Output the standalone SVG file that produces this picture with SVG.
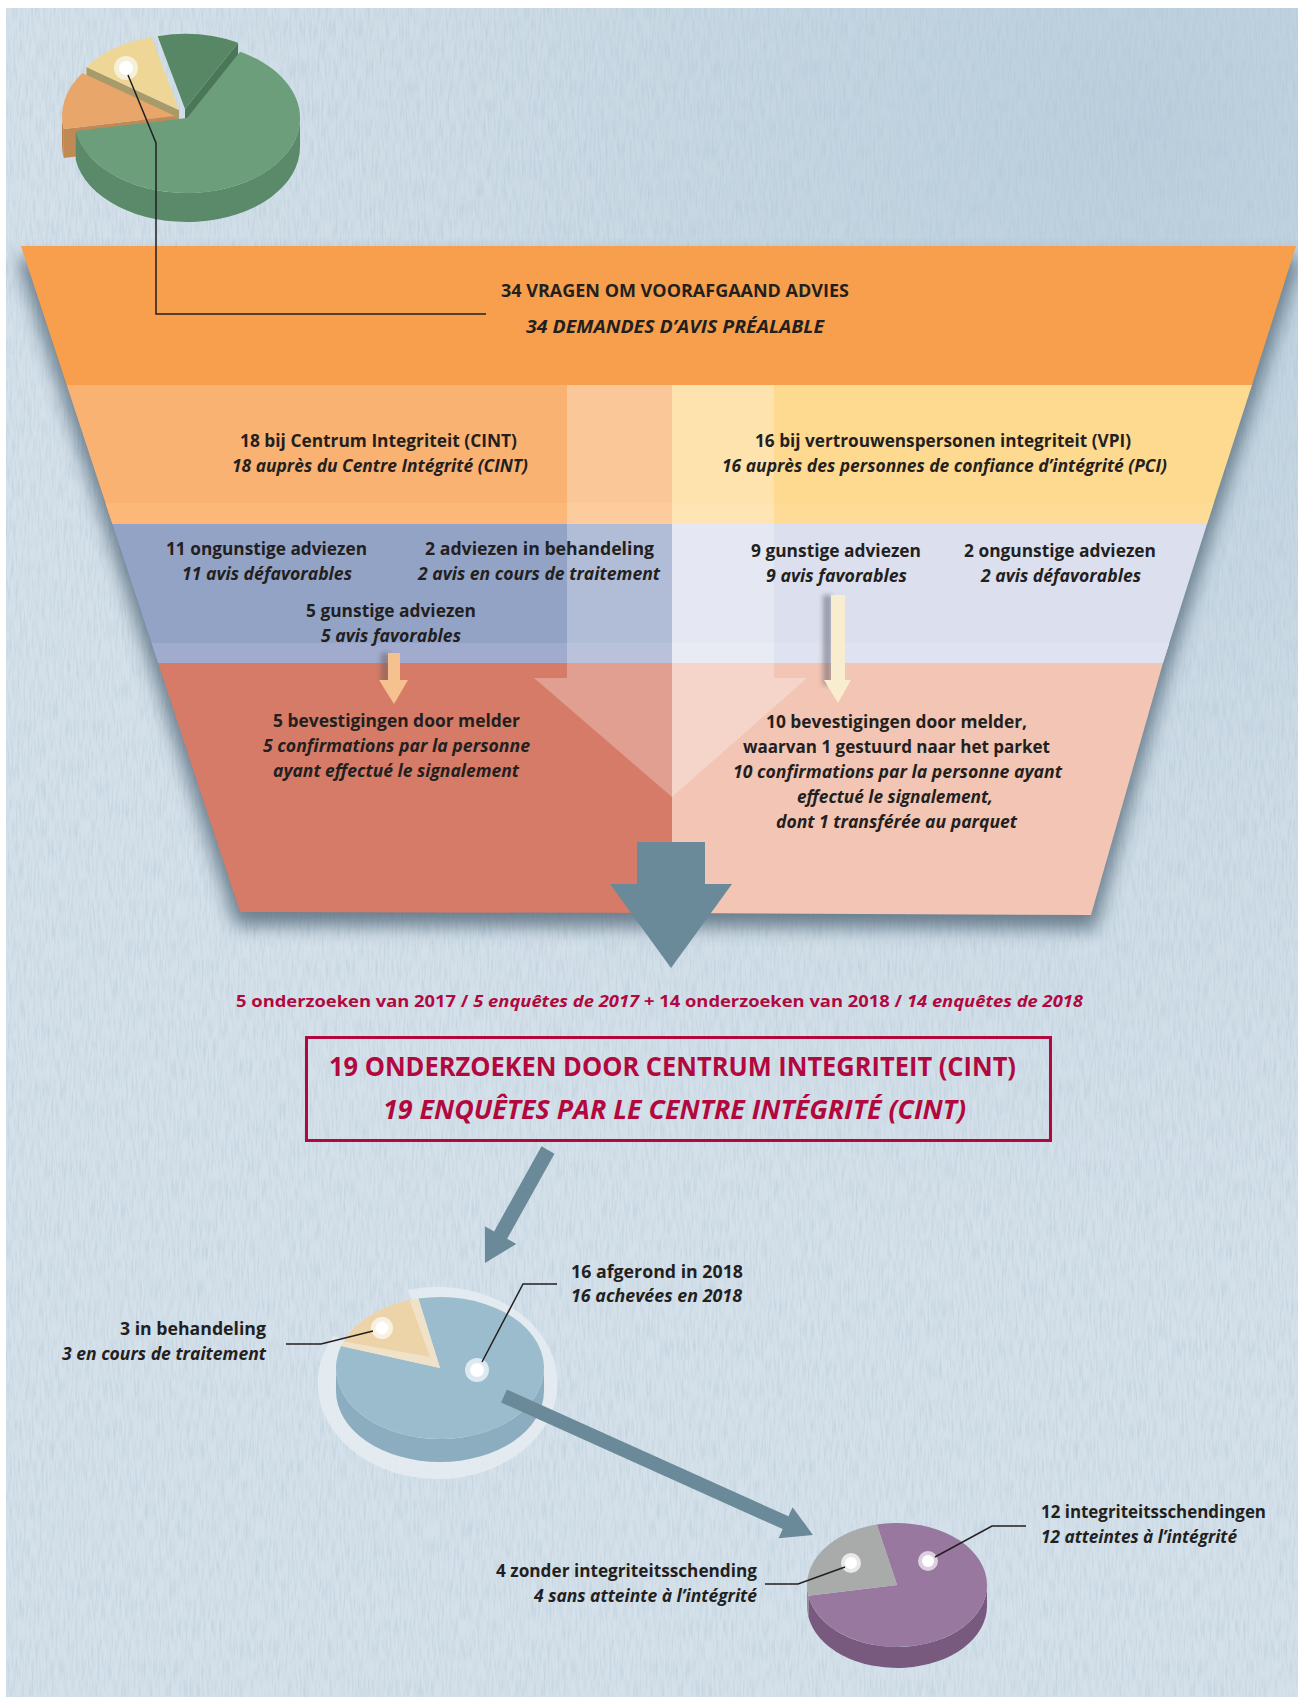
<svg xmlns="http://www.w3.org/2000/svg" width="1298" height="1697" viewBox="0 0 1298 1697">
<defs>
<style>
.t{font-family:"Open Sans","Liberation Sans",Arial,sans-serif;font-weight:700;font-size:17px;fill:#231f20}
.i{font-style:italic}
.h{font-size:18px}
.r{fill:#b2083e}
.rb{font-size:26px;font-weight:700}
.rs{font-size:16px}
.ld{fill:none;stroke:#231f20;stroke-width:1.5}
.arr{fill:#6a8a99}
</style>
<radialGradient id="bg" cx="1150" cy="120" r="1150" gradientUnits="userSpaceOnUse">
<stop offset="0" stop-color="#bbcfdd"/>
<stop offset="0.6" stop-color="#cedce6"/>
<stop offset="1" stop-color="#d5e1ea"/>
</radialGradient>
<filter id="tex" x="0" y="0" width="1" height="1">
<feTurbulence type="fractalNoise" baseFrequency="0.5 0.05" numOctaves="2" seed="7" result="n"/>
<feColorMatrix in="n" type="matrix" values="0 0 0 0 0.40  0 0 0 0 0.53  0 0 0 0 0.64  0.9 0 0 0 -0.36"/>
</filter>
<filter id="blur" x="-20%" y="-20%" width="140%" height="140%">
<feGaussianBlur stdDeviation="9"/>
</filter>
<filter id="blur2" x="-50%" y="-20%" width="200%" height="140%">
<feGaussianBlur stdDeviation="2.5"/>
</filter>
<clipPath id="fc">
<path d="M21,246 L1296,246 L1252,385 L1207,524 L1163,663 L1091,915 L672,913 L240,912 Z"/>
</clipPath>
</defs>

<!-- background -->
<rect x="0" y="0" width="1298" height="1697" fill="#ffffff"/>
<rect x="6" y="8" width="1292" height="1689" fill="url(#bg)"/>
<rect x="6" y="8" width="1292" height="1689" filter="url(#tex)"/>

<!-- top pie -->
<g id="pie-top">
<path d="M185,109 L238.05,42.78 L238.05,71.78 L185,138 Z" fill="#4b7759"/>
<path d="M185,109 L157.66,36.23 A113,75 0 0 1 238.05,42.78 Z" fill="#588766"/>
<path d="M179,110 L86.43,66.98 L86.43,95.98 L179,139 Z" fill="#a99b69"/>
<path d="M179,110 L86.43,66.98 A113,75 0 0 1 151.66,37.23 Z" fill="#eed796"/>
<path d="M175,116 L63.72,129.02 L63.72,158.02 L175,145 Z" fill="#c18a55"/>
<path d="M62,116 A113,75 0 0 0 63.72,129.02 L63.72,158.02 A113,75 0 0 1 62,145 Z" fill="#b98250"/>
<path d="M175,116 L82.43,72.98 A113,75 0 0 0 63.72,129.02 Z" fill="#e8a66b"/>
<path d="M300,118 A113,75 0 0 1 75.72,131.02 L75.72,160.02 A113,75 0 0 0 300,147 Z" fill="#5a8a69"/>
<path d="M187,118 L240.05,51.78 A113,75 0 1 1 75.72,131.02 Z" fill="#6c9e7b"/>
<circle cx="126" cy="68" r="12" fill="#f7f0d8"/>
<circle cx="126" cy="68" r="7" fill="#ffffff"/>
</g>

<!-- funnel -->
<g id="funnel">
<path d="M17,258 L1300,258 L1256,397 L1211,536 L1167,675 L1095,929 L672,927 L236,926 Z" fill="#3f5669" opacity="0.7" filter="url(#blur)"/>
<g clip-path="url(#fc)">
<rect x="0" y="246" width="1298" height="139" fill="#f79f4c"/>
<rect x="0" y="385" width="672" height="139" fill="#f9b272"/>
<rect x="672" y="385" width="626" height="139" fill="#fed990"/>
<rect x="0" y="503" width="672" height="21" fill="#fbb879"/>
<rect x="672" y="503" width="626" height="21" fill="#fedb96"/>
<rect x="0" y="524" width="672" height="139" fill="#93a3c6"/>
<rect x="672" y="524" width="626" height="139" fill="#dcdfee"/>
<rect x="0" y="643" width="672" height="20" fill="#a0abcd"/>
<rect x="672" y="643" width="626" height="20" fill="#dfe2f0"/>
<rect x="0" y="663" width="672" height="260" fill="#d57b67"/>
<rect x="672" y="663" width="626" height="260" fill="#f2c5b4"/>
<path d="M567,385 L774,385 L774,678 L807,678 L672,797 L534,678 L567,678 Z" fill="#ffffff" opacity="0.28"/>
</g>
</g>

<!-- funnel texts -->
<g id="n-total">
<text class="t h" x="501" y="297" textLength="348" lengthAdjust="spacingAndGlyphs">34 VRAGEN OM VOORAFGAAND ADVIES</text>
<text class="t h i" x="526" y="333" textLength="298" lengthAdjust="spacingAndGlyphs">34 DEMANDES D’AVIS PRÉALABLE</text>
</g>
<g id="n-cint">
<text class="t" x="240" y="447" textLength="277" lengthAdjust="spacingAndGlyphs">18 bij Centrum Integriteit (CINT)</text>
<text class="t i" x="232" y="472" textLength="296" lengthAdjust="spacingAndGlyphs">18 auprès du Centre Intégrité (CINT)</text>
</g>
<g id="n-vpi">
<text class="t" x="755" y="447" textLength="376" lengthAdjust="spacingAndGlyphs">16 bij vertrouwenspersonen integriteit (VPI)</text>
<text class="t i" x="722" y="472" textLength="445" lengthAdjust="spacingAndGlyphs">16 auprès des personnes de confiance d’intégrité (PCI)</text>
</g>
<g id="n-11neg">
<text class="t" x="166" y="555" textLength="201" lengthAdjust="spacingAndGlyphs">11 ongunstige adviezen</text>
<text class="t i" x="182" y="580" textLength="170" lengthAdjust="spacingAndGlyphs">11 avis défavorables</text>
</g>
<g id="n-2beh">
<text class="t" x="425" y="555" textLength="229" lengthAdjust="spacingAndGlyphs">2 adviezen in behandeling</text>
<text class="t i" x="418" y="580" textLength="242" lengthAdjust="spacingAndGlyphs">2 avis en cours de traitement</text>
</g>
<g id="n-9pos">
<text class="t" x="751" y="557" textLength="170" lengthAdjust="spacingAndGlyphs">9 gunstige adviezen</text>
<text class="t i" x="766" y="582" textLength="141" lengthAdjust="spacingAndGlyphs">9 avis favorables</text>
</g>
<g id="n-2neg">
<text class="t" x="964" y="557" textLength="192" lengthAdjust="spacingAndGlyphs">2 ongunstige adviezen</text>
<text class="t i" x="981" y="582" textLength="160" lengthAdjust="spacingAndGlyphs">2 avis défavorables</text>
</g>
<g id="n-5pos">
<text class="t" x="306" y="617" textLength="170" lengthAdjust="spacingAndGlyphs">5 gunstige adviezen</text>
<text class="t i" x="321" y="642" textLength="140" lengthAdjust="spacingAndGlyphs">5 avis favorables</text>
</g>
<g id="n-5conf">
<text class="t" x="273" y="727" textLength="247" lengthAdjust="spacingAndGlyphs">5 bevestigingen door melder</text>
<text class="t i" x="263" y="752" textLength="267" lengthAdjust="spacingAndGlyphs">5 confirmations par la personne</text>
<text class="t i" x="273" y="777" textLength="246" lengthAdjust="spacingAndGlyphs">ayant effectué le signalement</text>
</g>
<g id="n-10conf">
<text class="t" x="766" y="728" textLength="261" lengthAdjust="spacingAndGlyphs">10 bevestigingen door melder,</text>
<text class="t" x="743" y="753" textLength="307" lengthAdjust="spacingAndGlyphs">waarvan 1 gestuurd naar het parket</text>
<text class="t i" x="733" y="778" textLength="329" lengthAdjust="spacingAndGlyphs">10 confirmations par la personne ayant</text>
<text class="t i" x="797" y="803" textLength="196" lengthAdjust="spacingAndGlyphs">effectué le signalement,</text>
<text class="t i" x="776" y="828" textLength="241" lengthAdjust="spacingAndGlyphs">dont 1 transférée au parquet</text>
</g>

<!-- investigations -->
<g id="n-sum">
<text class="t r rs" x="236" y="1007" textLength="847" lengthAdjust="spacingAndGlyphs">5 onderzoeken van 2017 / <tspan class="i">5 enquêtes de 2017</tspan> + 14 onderzoeken van 2018 / <tspan class="i">14 enquêtes de 2018</tspan></text>
</g>
<g id="n-19">
<rect x="306.5" y="1037.5" width="744" height="103" fill="none" stroke="#b2083e" stroke-width="3"/>
<text class="t r rb" x="329" y="1076" textLength="687" lengthAdjust="spacingAndGlyphs">19 ONDERZOEKEN DOOR CENTRUM INTEGRITEIT (CINT)</text>
<text class="t r rb i" x="383" y="1119" textLength="583" lengthAdjust="spacingAndGlyphs">19 ENQUÊTES PAR LE CENTRE INTÉGRITÉ (CINT)</text>
</g>

<!-- blue pie -->
<g id="pie-blue">
<path d="M440,1368 L408,1290 A120,96 0 1 1 333,1336 Z" fill="#e4ebf1" opacity="0.9"/>
<path d="M544,1368 A104,71 0 0 1 336,1368 L336,1391 A104,71 0 0 0 544,1391 Z" fill="#8badbf"/>
<path d="M440,1368 L418.38,1298.55 A104,71 0 1 1 341.09,1346.06 Z" fill="#9bbccc"/>
<path d="M440,1368 L341.09,1346.06 A104,71 0 0 1 418.38,1298.55 Z" fill="#f0e2c8"/>
<path d="M430,1357 L343.6,1341.4 A104,71 0 0 1 409.6,1300.1 Z" fill="#edd3a8"/>
<circle cx="382" cy="1328" r="11" fill="#f8f1e2"/>
<circle cx="382" cy="1328" r="6.5" fill="#ffffff"/>
<circle cx="477" cy="1370" r="12" fill="#dce9ef"/>
<circle cx="477" cy="1370" r="7" fill="#ffffff"/>
</g>
<g id="n-3beh">
<text class="t" x="120" y="1335" textLength="146" lengthAdjust="spacingAndGlyphs">3 in behandeling</text>
<text class="t i" x="62" y="1360" textLength="204" lengthAdjust="spacingAndGlyphs">3 en cours de traitement</text>
</g>
<g id="n-16af">
<text class="t" x="571" y="1278" textLength="172" lengthAdjust="spacingAndGlyphs">16 afgerond in 2018</text>
<text class="t i" x="571" y="1302" textLength="171" lengthAdjust="spacingAndGlyphs">16 achevées en 2018</text>
</g>

<!-- purple pie -->
<g id="pie-purple">
<path d="M987,1585 A90,62 0 0 1 808.37,1595.77 L808.37,1616.77 A90,62 0 0 0 987,1606 Z" fill="#775a7e"/>
<path d="M808.37,1595.77 A90,62 0 0 1 807,1585 L807,1606 A90,62 0 0 0 808.37,1616.77 Z" fill="#8c8d8e"/>
<path d="M897,1585 L876.75,1524.59 A90,62 0 1 1 808.37,1595.77 Z" fill="#98789e"/>
<path d="M897,1585 L808.37,1595.77 A90,62 0 0 1 876.75,1524.59 Z" fill="#a9aaaa"/>
<circle cx="851" cy="1563" r="10" fill="#e8e8e8"/>
<circle cx="851" cy="1563" r="6" fill="#ffffff"/>
<circle cx="928" cy="1561" r="10" fill="#dccfe0"/>
<circle cx="928" cy="1561" r="6" fill="#ffffff"/>
</g>
<g id="n-4zonder">
<text class="t" x="496" y="1577" textLength="261" lengthAdjust="spacingAndGlyphs">4 zonder integriteitsschending</text>
<text class="t i" x="534" y="1602" textLength="223" lengthAdjust="spacingAndGlyphs">4 sans atteinte à l’intégrité</text>
</g>
<g id="n-12">
<text class="t" x="1041" y="1518" textLength="225" lengthAdjust="spacingAndGlyphs">12 integriteitsschendingen</text>
<text class="t i" x="1041" y="1543" textLength="196" lengthAdjust="spacingAndGlyphs">12 atteintes à l’intégrité</text>
</g>

<!-- connectors -->
<g id="connectors">
<polyline class="ld" points="128,75 156,143 156,314 486,314"/>
<polyline class="ld" points="373,1331 321,1344 286,1344"/>
<polyline class="ld" points="482,1362 523,1284 557,1284"/>
<polyline class="ld" points="845,1567 798,1584 765,1584"/>
<polyline class="ld" points="935,1557 992,1526 1026,1526"/>
<rect x="381" y="653" width="9" height="30" fill="#6b5a58" opacity="0.5" filter="url(#blur2)"/>
<path d="M388,653 L400,653 L400,680 L408,680 L394,704 L379,680 L388,680 Z" fill="#f5c28f"/>
<rect x="823" y="595" width="9" height="90" fill="#5a5a66" opacity="0.5" filter="url(#blur2)"/>
<path d="M831,595 L845,595 L845,680 L851,680 L838,703 L824,680 L831,680 Z" fill="#f9edd0"/>
<path class="arr" d="M637,842 L705,842 L705,884 L732,884 L671,968 L610,884 L637,884 Z"/>
<path class="arr" d="M554.5,1153.7 L507.1,1238.8 L516.3,1243.9 L485,1263 L484.9,1226.3 L494.1,1231.4 L541.5,1146.3 Z"/>
<path class="arr" d="M506.9,1389.6 L788.5,1516.3 L792.6,1507.2 L813,1535 L778.6,1538.2 L782.7,1529.1 L501.1,1402.4 Z"/>
</g>
</svg>
